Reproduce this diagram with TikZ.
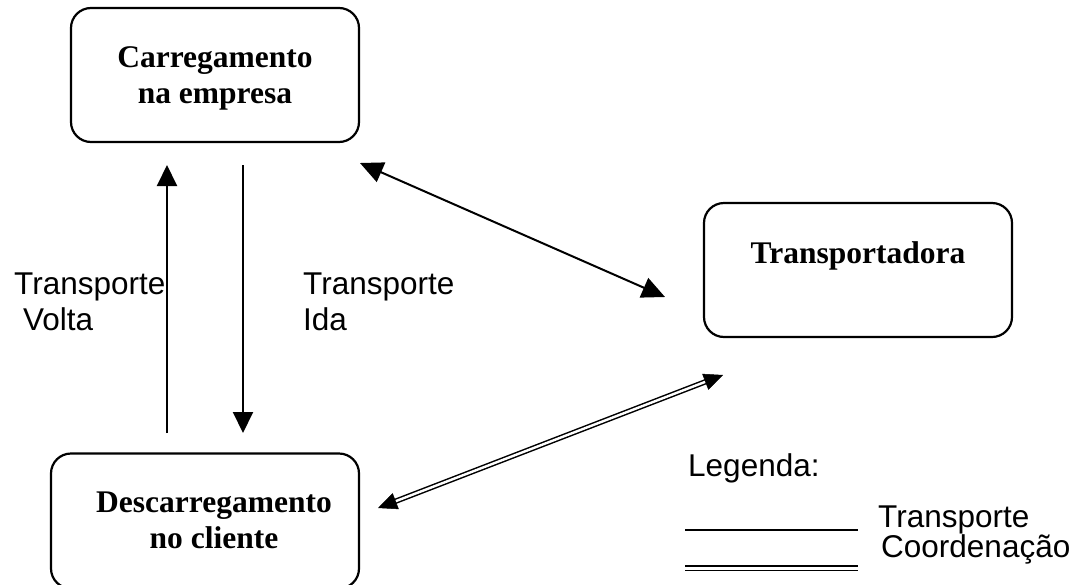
\documentclass[tikz,border=0pt]{standalone}
\usepackage{fontspec}
\setmainfont{Liberation Serif}
\setsansfont{Liberation Sans}
\usetikzlibrary{arrows.meta,calc}
\begin{document}
\begin{tikzpicture}[x=1pt,y=-1pt,
  box/.style={draw, line width=2.2pt, rounded corners=20pt, inner sep=0pt},
  boxtext/.style={font=\fontsize{31.5}{36}\selectfont\bfseries, anchor=base, inner sep=0pt},
  lbl/.style={font=\sffamily\fontsize{31.5}{36}\selectfont, anchor=base west, inner sep=0pt},
  flow/.style={line width=2pt, -{Triangle[length=21pt,width=20pt]}},
  flowboth/.style={line width=2pt, {Triangle[length=23pt,width=21pt]}-{Triangle[length=23pt,width=21pt]}},
  coordline/.style={line width=1.5pt, double, double distance=2.4pt},
  coordtip/.style={line width=0.5pt, -{Triangle[length=19pt,width=17pt]}},
]
\useasboundingbox (0,0) rectangle (1076,584);

% boxes
\node[box, minimum width=288pt, minimum height=134pt] (carr) at (215,75) {};
\node[box, minimum width=308pt, minimum height=134pt] (transp) at (858,270) {};
\node[box, minimum width=308pt, minimum height=135pt] (desc) at (205,521) {};

% box texts
\node[boxtext] (carr1) at (215,67) {Carregamento};
\node[boxtext] (carr2) at (215,103) {na empresa};
\node[boxtext] (transp1) at (858,263) {Transportadora};
\node[boxtext] (desc1) at (214,512) {Descarregamento};
\node[boxtext] (desc2) at (214,548) {no cliente};

% side labels
\node[lbl] (voltaA) at (14,294) {Transporte};
\node[lbl] (voltaB) at (23,330) {Volta};
\node[lbl] (idaA) at (303,294) {Transporte};
\node[lbl] (idaB) at (303,330) {Ida};

% transport arrows
\coordinate (voltaS) at (167,433);
\coordinate (voltaE) at (167,165);
\draw[flow] (voltaS) -- (voltaE);
\coordinate (idaS) at (243,165);
\coordinate (idaE) at (243,433);
\draw[flow] (idaS) -- (idaE);

% carregamento <-> transportadora
\coordinate (ctA) at (360,163);
\coordinate (ctB) at (665,297);
\draw[flowboth] (ctA) -- (ctB);

% coordination transportadora <-> descarregamento
\coordinate (cdA) at (723,375);
\coordinate (cdB) at (378,508);
\draw[coordline] ($(cdA)!15pt!(cdB)$) -- ($(cdB)!15pt!(cdA)$);
\draw[coordtip] ($(cdA)!19pt!(cdB)$) -- (cdA);
\draw[coordtip] ($(cdB)!19pt!(cdA)$) -- (cdB);

% legend
\node[lbl] (leg) at (688,476) {Legenda:};
\coordinate (l1a) at (685,530);
\coordinate (l1b) at (858,530);
\draw[line width=1.6pt] (l1a) -- (l1b);
\coordinate (l2a) at (685,568);
\coordinate (l2b) at (858,568);
\draw[line width=1.5pt, double, double distance=3pt] (l2a) -- (l2b);
\node[lbl] (legT) at (878,527) {Transporte};
\node[lbl] (legC) at (881,557) {Coordenação};
\end{tikzpicture}
\end{document}
